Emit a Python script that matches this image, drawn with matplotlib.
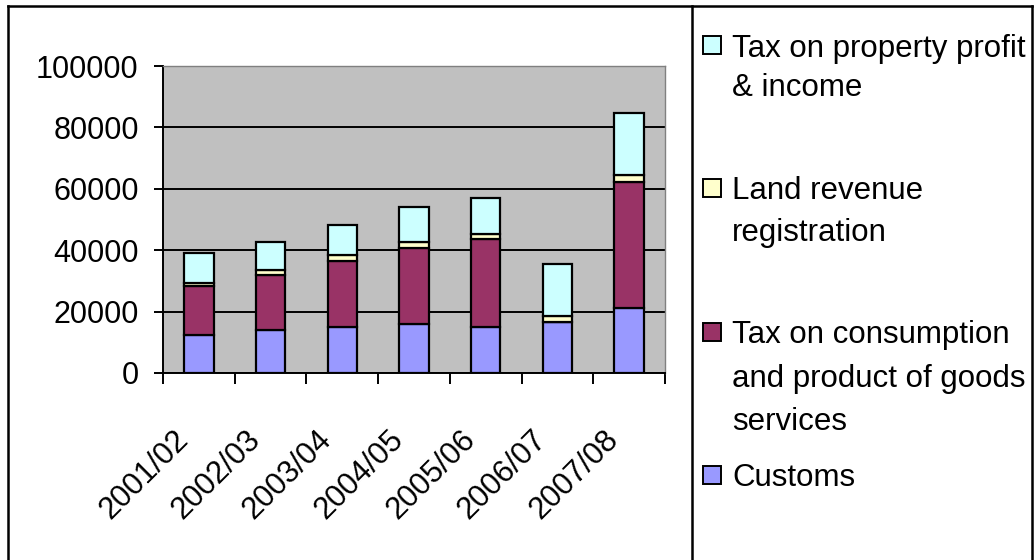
import matplotlib.pyplot as plt
from matplotlib.patches import Rectangle
from matplotlib.lines import Line2D
from matplotlib.transforms import ScaledTranslation
import numpy as np

years = ["2001/02", "2002/03", "2003/04", "2004/05", "2005/06", "2006/07", "2007/08"]
customs = [12400, 14000, 15100, 15900, 15100, 16700, 21300]
consumption = [15900, 17800, 21300, 24900, 28400, 0, 41000]
land_revenue = [1100, 1700, 1900, 1800, 1800, 1900, 2200]
property_tax = [9600, 9200, 9800, 11600, 11600, 16900, 20100]

series = [customs, consumption, land_revenue, property_tax]
names = ["Customs",
         "Tax on consumption\nand product of goods\nservices",
         "Land revenue\nregistration",
         "Tax on property profit\n& income"]
colors = ["#9999FF", "#993366", "#FFFFCC", "#CCFFFF"]

plt.rcParams["font.family"] = ["Liberation Sans", "DejaVu Sans"]
FS = 22

W, H = 1035, 560
fig = plt.figure(figsize=(W / 100, H / 100), dpi=100)
ax = fig.add_axes([163 / W, 1 - 373 / H, (665 - 163) / W, (373 - 66) / H])
ax.set_facecolor("#C0C0C0")

x = np.arange(len(years))
bottom = np.zeros(len(years))
for vals, col in zip(series, colors):
    ax.bar(x, vals, width=0.41, bottom=bottom, color=col, edgecolor="black",
           linewidth=1.6, zorder=3)
    bottom += np.array(vals)

ax.set_ylim(0, 100000)
ax.set_xlim(-0.5, len(years) - 0.5)
ax.set_yticks(np.arange(0, 100001, 20000))
ax.tick_params(axis="y", labelsize=FS, length=6.5, width=1.4, pad=11, direction="out")
ax.yaxis.grid(True, color="black", linewidth=1.4, zorder=1)
ax.set_axisbelow(True)

# ticks sit between the categories, labels are drawn under each bar
ax.set_xticks(np.arange(-0.5, len(years), 1.0))
ax.set_xticklabels([])
ax.tick_params(axis="x", which="major", length=8, width=1.4, direction="out")
shift = ScaledTranslation(-10.8 / 72, -44.6 / 72, fig.dpi_scale_trans)
for xi, lab in zip(x, years):
    ax.text(xi, 0, lab, transform=ax.get_xaxis_transform() + shift, fontsize=FS + 0.3,
            rotation=45, ha="right", va="center", rotation_mode="anchor")

for side in ["left", "bottom"]:
    ax.spines[side].set_color("black")
    ax.spines[side].set_linewidth(1.4)
for side in ["right", "top"]:
    ax.spines[side].set_color("#808080")
    ax.spines[side].set_linewidth(1.0)

# frame and legend divider
def fx(px):
    return px / W

def fy(py):
    return 1 - py / H

for xs, ys in [([8, 8], [6, 560]), ([8, 1032], [6, 6]), ([1032, 1032], [6, 560]),
               ([692, 692], [6, 560])]:
    fig.add_artist(Line2D([fx(v) for v in xs], [fy(v) for v in ys],
                          color="black", linewidth=1.8, transform=fig.transFigure))

# legend (top entry is last series)
first_y = [45, 188, 332, 475]
line_h = [40, 42, 43, 43]
for yc, lh, name, col in zip(first_y, line_h, names[::-1], colors[::-1]):
    fig.add_artist(Rectangle((fx(703), fy(yc + 9)), 18 / W, 18 / H, facecolor=col,
                             edgecolor="black", linewidth=1.4,
                             transform=fig.transFigure))
    for i, line in enumerate(name.split("\n")):
        fig.text(fx(732), fy(yc + i * lh), line, fontsize=FS + 0.5,
                 va="center_baseline", ha="left")

fig.savefig("out.png", dpi=100)
